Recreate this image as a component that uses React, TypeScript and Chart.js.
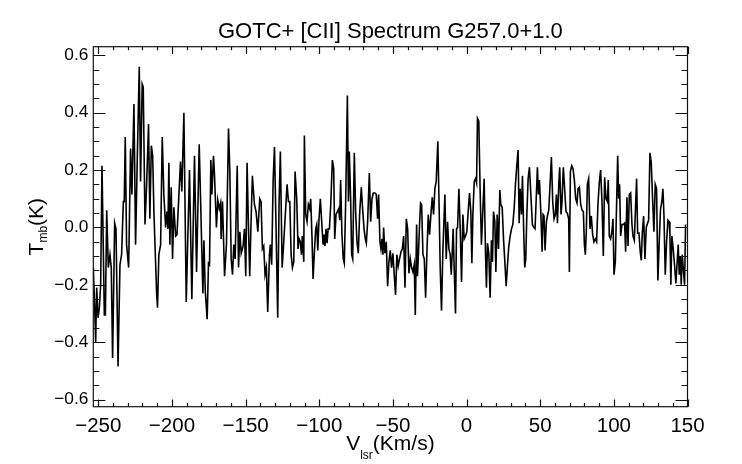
import React, { useEffect, useRef } from "react";
import { Chart, registerables } from "chart.js";

Chart.register(...registerables);

// ---- data (velocity in km/s, Tmb in K) ----
const VELOCITY_KMS: number[] = [
  -253.4, -252.5, -251.8, -251.1, -250.2, -249.3, -248.4, -247.5, -245.9, -245.2, -244.3, -243.2, -242.1, -241.2, -240.3, -238.9, -238.0, -236.6, -235.3, -234.2, -233.0, -232.4, -231.7, -230.8, -229.4, -228.1, -227.2, -225.8, -224.7, -223.5, -222.2, -221.3, -220.2, -219.5, -218.3, -217.2, -215.9, -215.0, -214.0, -213.1, -212.2, -210.4, -209.8, -208.9, -207.7, -206.6, -205.5, -204.3, -203.4, -202.7, -202.1, -201.4, -200.5, -199.6, -198.7, -197.5, -196.6, -195.5, -194.2, -193.3, -191.9, -190.3,
  -188.1, -186.5, -184.7, -183.3, -181.5, -179.0, -178.3, -177.4, -176.1, -175.2, -174.5, -173.6, -172.9, -171.8, -171.1, -169.8, -168.9, -167.9, -167.0, -166.6, -165.7, -164.3, -163.0, -161.6, -160.7, -159.8, -158.9, -158.0, -157.1, -155.7, -154.8, -153.9, -153.0, -151.7, -150.8, -149.9, -149.0, -148.1, -147.2, -146.3, -145.4, -144.0, -142.9, -141.7, -140.4, -139.5, -138.6, -137.7, -136.8, -135.9, -135.0, -133.8, -133.2, -132.3, -131.3, -130.4, -129.5, -128.2, -127.3, -126.4, -125.2, -124.1, -123.2,
  -121.85, -120.9, -120.0, -119.1, -118.2, -117.3, -116.4, -115.3, -114.4, -113.7, -112.8, -112.1, -111.5, -110.5, -110.1, -109.2, -108.3, -107.4, -106.5, -105.8, -104.9, -104.2, -103.3, -102.4, -101.7, -101.0, -100.15, -99.25, -98.35, -97.4, -96.75, -96.1, -95.4, -94.7, -94.0, -93.1, -92.2, -91.1, -90.2, -89.5, -88.6, -87.7, -86.8, -86.1, -85.5, -84.6, -83.7, -83.0, -82.1, -80.9, -80.2, -79.6, -78.7, -78.0, -77.3, -76.2, -75.3, -74.4, -73.5, -72.6, -71.45, -70.55, -69.6, -68.75, -68.05, -67.15, -66.0, -65.1, -64.2, -63.3, -62.2, -61.3, -60.4, -59.7, -58.8, -58.1, -57.4, -56.75,
  -56.3, -55.4, -54.5, -53.6, -52.7, -51.8, -50.9, -50.0, -49.1, -48.2, -47.3, -46.4, -45.5, -44.5, -43.6, -42.7, -41.8, -40.9, -40.0, -39.1, -38.2, -37.3, -36.4, -35.5, -34.8, -33.9, -33.3, -32.6, -31.9, -31.2, -30.5, -29.6, -28.7, -27.8, -26.9, -26.0, -25.1, -24.2, -23.3, -22.4, -21.5, -20.6, -19.5, -18.6, -17.9, -17.0, -16.1, -14.7, -13.8, -12.9, -12.0, -11.1, -10.4, -9.7, -9.1, -8.4, -7.5, -6.8, -6.1, -5.2, -4.3, -3.4, -2.5, -1.6, -0.7, 0.2, 1.1, 2.0, 2.9, 3.6, 4.3, 5.2, 6.1, 6.8, 7.4, 8.3, 9.2, 10.1,
  11.95, 12.85, 13.5, 14.2, 15.1, 16.0, 16.9, 17.6, 18.3, 19.2, 19.9, 20.8, 21.7, 22.6, 23.25, 24.2, 25.1, 26.0, 26.9, 27.8, 28.7, 29.6, 30.5, 31.4, 32.3, 33.2, 34.1, 35.0, 35.7, 36.4, 37.3, 37.95, 38.85, 39.5, 40.2, 40.9, 41.8, 42.7, 43.6, 44.7, 45.6, 46.5, 47.4, 48.1, 48.8, 49.5, 50.4, 51.3, 51.95, 52.6, 53.3, 54.2, 55.1, 55.8, 56.7, 57.6, 58.5, 59.4, 60.3, 61.0, 61.7, 62.6, 63.25, 64.15, 64.8, 65.7, 66.6, 67.5, 68.4, 69.35, 69.8, 70.5, 71.4, 72.3, 73.2, 74.1, 75.0, 75.7,
  76.6, 77.5, 78.4, 79.3, 80.0, 80.65, 81.3, 82.0, 82.9, 83.8, 84.7, 85.6, 86.5, 87.4, 88.3, 89.2, 90.1, 91.0, 91.95, 92.85, 93.75, 94.65, 95.6, 96.2, 96.9, 97.8, 98.7, 99.4, 100.1, 101.0, 101.9, 102.6, 103.25, 103.9, 104.6, 105.5, 106.4, 107.3, 108.0, 108.9, 109.6, 110.5, 111.4, 112.3, 113.0, 113.9, 114.55, 115.45, 116.15, 117.05, 117.9, 118.6, 119.3, 120.2, 121.1, 122.0, 122.9, 123.6, 124.5, 125.4, 126.3, 127.2, 128.1, 129.0, 129.9, 130.8, 131.7, 132.6, 133.3, 134.0, 134.9, 135.8, 136.7, 137.6, 138.05, 138.7, 139.4, 140.3, 141.2, 142.1, 143.0, 143.7, 144.4, 145.1, 145.75, 146.4, 147.1, 148.0, 148.7,
];

const TMB_K: number[] = [
  -0.14, -0.27, -0.40, -0.21, -0.315, -0.28, -0.20, 0.215, -0.305, -0.305, 0.06, -0.14, -0.095, -0.14, -0.455, 0.015, -0.005, -0.485, -0.13, -0.095, 0.09, 0.09, 0.315, -0.06, -0.14, 0.275, 0.115, 0.43, -0.06, 0.25, 0.56, 0.16, 0.50, 0.49, 0.01, 0.15, 0.36, 0.03, 0.285, 0.25, 0.045, -0.23, -0.28, -0.095, -0.06, 0.315, 0.115, 0.00, 0.055, -0.005, 0.225, -0.06, 0.14, -0.11, 0.07, -0.03, -0.025, 0.09, 0.23, 0.125, 0.40, -0.26,
  0.20, -0.25, 0.25, -0.155, 0.29, -0.23, -0.045, -0.22, -0.32, -0.125, -0.13, 0.235, 0.115, 0.25, 0.18, 0.00, 0.095, 0.065, 0.085, -0.04, 0.09, -0.17, -0.06, 0.345, 0.195, -0.11, -0.165, -0.06, -0.11, 0.215, -0.14, -0.015, -0.09, -0.065, -0.005, -0.17, 0.225, 0.01, -0.17, 0.02, 0.18, 0.08, 0.055, -0.015, 0.10, 0.09, -0.075, -0.065, -0.165, -0.14, -0.295, -0.095, -0.06, -0.13, 0.165, 0.28, 0.045, -0.315, 0.08, 0.265, -0.14, -0.05, 0.03,
  0.15, 0.09, 0.09, -0.095, -0.14, -0.12, 0.195, 0.10, -0.075, -0.04, -0.05, -0.095, -0.03, -0.12, 0.32, 0.045, 0.02, 0.08, 0.065, 0.10, -0.04, -0.18, -0.085, -0.005, 0.01, -0.08, 0.03, 0.10, 0.02, -0.06, -0.025, -0.065, -0.005, -0.055, -0.005, -0.005, 0.08, 0.235, 0.205, -0.04, 0.045, 0.055, 0.065, 0.025, 0.165, -0.025, -0.11, -0.125, 0.08, 0.46, 0.09, 0.265, 0.10, -0.095, -0.11, 0.26, 0.055, -0.05, -0.09, 0.045, 0.14, 0.065, -0.005, -0.04, -0.055, 0.02, 0.19, 0.02, 0.10, 0.12, 0.12, 0.115, 0.03, 0.115, -0.05, -0.075, -0.04, -0.095,
  0.00, -0.09, -0.05, -0.205, -0.12, -0.08, -0.14, -0.09, -0.165, -0.235, -0.095, -0.135, -0.11, -0.085, -0.075, -0.03, -0.21, 0.03, -0.005, -0.16, -0.11, -0.14, -0.155, -0.13, -0.305, 0.01, -0.17, -0.085, 0.01, 0.085, 0.08, -0.095, -0.11, -0.245, -0.085, 0.045, -0.025, 0.045, 0.105, 0.045, 0.135, 0.16, 0.30, 0.065, -0.14, -0.29, -0.085, 0.115, -0.11, 0.02, -0.075, -0.095, -0.165, -0.085, -0.005, -0.14, -0.30, -0.005, 0.00, 0.135, -0.005, -0.19, 0.045, -0.04, -0.03, -0.015, 0.055, 0.12, 0.055, -0.125, 0.045, 0.16, 0.17, 0.155, 0.38, 0.37, 0.135, -0.06,
  0.17, -0.085, -0.21, -0.055, -0.09, -0.245, -0.045, -0.12, 0.055, 0.02, -0.155, 0.045, -0.075, 0.13, 0.08, 0.07, -0.04, -0.12, -0.205, -0.13, -0.065, -0.03, -0.005, 0.01, 0.065, 0.15, 0.215, 0.27, 0.015, 0.135, 0.045, 0.18, -0.025, -0.14, -0.11, 0.04, 0.17, 0.21, 0.12, 0.01, 0.00, -0.005, 0.115, 0.21, 0.115, 0.165, 0.055, -0.085, 0.045, 0.04, -0.08, 0.02, 0.045, 0.06, 0.15, 0.245, 0.09, 0.03, 0.045, 0.115, 0.015, 0.15, 0.21, 0.045, 0.09, 0.21, 0.135, 0.055, 0.05, 0.03, -0.155, 0.195, 0.215, 0.205, 0.165, 0.10, 0.085, 0.135,
  0.14, 0.08, 0.06, 0.055, -0.06, -0.095, -0.015, 0.15, 0.17, -0.005, 0.04, -0.025, -0.05, -0.04, -0.05, 0.08, 0.155, 0.20, 0.09, -0.10, 0.175, 0.10, 0.09, 0.165, -0.03, -0.04, -0.015, 0.03, -0.165, -0.12, 0.09, 0.25, 0.10, 0.15, -0.03, 0.01, 0.01, 0.015, -0.085, 0.105, -0.065, 0.115, 0.12, 0.01, -0.03, -0.045, 0.045, 0.17, -0.02, -0.02, -0.085, -0.115, -0.02, 0.04, -0.11, 0.00, 0.015, 0.025, 0.26, 0.225, 0.10, -0.015, 0.15, 0.135, -0.185, -0.05, 0.065, 0.09, 0.135, 0.045, -0.165, -0.05, 0.025, 0.02, -0.025, -0.20, -0.03, -0.075, -0.13, -0.195, -0.12, -0.06, -0.165, -0.10, -0.20, -0.095, -0.14, -0.20, 0.01,
];

// ---- axes ----
const X_MIN = -253.4;
const X_MAX = 150;
const Y_MIN = -0.625;
const Y_MAX = 0.63;
const X_MAJOR_TICKS = [-250, -200, -150, -100, -50, 0, 50, 100, 150];
const Y_MAJOR_TICKS = [-0.6, -0.4, -0.2, 0.0, 0.2, 0.4, 0.6];
const X_MINOR_STEP = 10;
const Y_MINOR_STEP = 0.05;

const TITLE = "GOTC+ [CII] Spectrum G257.0+1.0";
const X_LABEL = ["V", "lsr", "(Km/s)"];
const Y_LABEL = ["T", "mb", "(K)"];

const FONT = '"Liberation Sans", Arial, Helvetica, sans-serif';

function minorTicks(a: number, b: number, step: number): number[] {
  const out: number[] = [];
  const n = Math.round((b - a) / step);
  for (let i = 0; i <= n; i++) out.push(+(a + i * step).toFixed(4));
  return out;
}

const fmtSigned = (v: number, d: number) =>
  (v < -1e-9 ? "\u2212" : "") + Math.abs(v).toFixed(d);

const idlFrame = {
  id: "idlFrame",
  afterDatasetsDraw(chart: any) {
    const { ctx, chartArea: a, scales } = chart;
    const x = scales.x;
    const y = scales.y;
    ctx.save();
    ctx.strokeStyle = "#111";
    ctx.lineWidth = 1.2;
    ctx.strokeRect(a.left, a.top, a.right - a.left, a.bottom - a.top);
    ctx.beginPath();
    const xMinor = minorTicks(-250, 150, X_MINOR_STEP);
    for (const v of xMinor) {
      const isMajor = X_MAJOR_TICKS.some((m) => Math.abs(m - v) < 1e-6);
      const len = isMajor ? 7.2 : 3.6;
      const px = Math.round(x.getPixelForValue(v)) + 0.5;
      ctx.moveTo(px, a.bottom);
      ctx.lineTo(px, a.bottom - len);
      ctx.moveTo(px, a.top);
      ctx.lineTo(px, a.top + len);
    }
    const yMinor = minorTicks(-0.6, 0.6, Y_MINOR_STEP);
    for (const v of yMinor) {
      const isMajor = Y_MAJOR_TICKS.some((m) => Math.abs(m - v) < 1e-6);
      const len = isMajor ? 12 : 6;
      const py = Math.round(y.getPixelForValue(v)) + 0.5;
      ctx.moveTo(a.left, py);
      ctx.lineTo(a.left + len, py);
      ctx.moveTo(a.right, py);
      ctx.lineTo(a.right - len, py);
    }
    ctx.stroke();

    // title
    const cx = (a.left + a.right) / 2;
    ctx.fillStyle = "#000";
    ctx.textBaseline = "alphabetic";
    ctx.textAlign = "center";
    ctx.font = `22px ${FONT}`;
    ctx.fillText(TITLE, cx, 38.3);

    // x axis label with subscript
    const mainF = `21px ${FONT}`;
    const subF = `12px ${FONT}`;
    ctx.textAlign = "left";
    ctx.font = mainF;
    const w0 = ctx.measureText(X_LABEL[0]).width;
    const w2 = ctx.measureText(X_LABEL[2]).width;
    ctx.font = subF;
    const w1 = ctx.measureText(X_LABEL[1]).width;
    let sx = cx - (w0 + w1 + w2) / 2;
    const by = 450;
    ctx.font = mainF;
    ctx.fillText(X_LABEL[0], sx, by);
    sx += w0;
    ctx.font = subF;
    ctx.fillText(X_LABEL[1], sx, by + 9);
    sx += w1;
    ctx.font = mainF;
    ctx.fillText(X_LABEL[2], sx, by);

    // y axis label with subscript (rotated)
    const cy = (a.top + a.bottom) / 2;
    ctx.save();
    ctx.translate(42.5, cy);
    ctx.rotate(-Math.PI / 2);
    ctx.font = mainF;
    const v0 = ctx.measureText(Y_LABEL[0]).width;
    const v2 = ctx.measureText(Y_LABEL[2]).width;
    ctx.font = subF;
    const v1 = ctx.measureText(Y_LABEL[1]).width;
    let tx = -(v0 + v1 + v2) / 2;
    ctx.font = mainF;
    ctx.fillText(Y_LABEL[0], tx, 0);
    tx += v0;
    ctx.font = subF;
    ctx.fillText(Y_LABEL[1], tx, 4);
    tx += v1;
    ctx.font = mainF;
    ctx.fillText(Y_LABEL[2], tx, 0);
    ctx.restore();

    ctx.restore();
  },
};

export default function App() {
  const ref = useRef<HTMLCanvasElement | null>(null);

  useEffect(() => {
    if (!ref.current) return;
    const points = VELOCITY_KMS.map((v, i) => ({ x: v, y: TMB_K[i] }));
    const chart = new Chart(ref.current, {
      type: "line",
      data: {
        datasets: [
          {
            data: points,
            borderColor: "#000",
            borderWidth: 1.6,
            pointRadius: 0,
            tension: 0,
            fill: false,
          },
        ],
      },
      options: {
        animation: false,
        responsive: false,
        events: [],
        layout: { padding: { left: 0, right: 54.5, top: 46.7, bottom: 0 } },
        plugins: {
          legend: { display: false },
          tooltip: { enabled: false },
          title: { display: false },
        },
        scales: {
          x: {
            type: "linear",
            min: X_MIN,
            max: X_MAX,
            grid: { display: false, drawTicks: false },
            border: { display: false },
            afterBuildTicks: (s: any) => {
              s.ticks = X_MAJOR_TICKS.map((v) => ({ value: v }));
            },
            afterFit: (s: any) => {
              s.height = 57.3;
            },
            ticks: {
              autoSkip: false,
              maxRotation: 0,
              padding: 7,
              color: "#000",
              font: { family: FONT, size: 20.5 },
              callback: (v: any) => fmtSigned(Number(v), 0),
            },
          },
          y: {
            type: "linear",
            min: Y_MIN,
            max: Y_MAX,
            grid: { display: false, drawTicks: false },
            border: { display: false },
            afterBuildTicks: (s: any) => {
              s.ticks = Y_MAJOR_TICKS.map((v) => ({ value: v }));
            },
            afterFit: (s: any) => {
              s.width = 93.3;
            },
            ticks: {
              autoSkip: false,
              padding: 5,
              color: "#000",
              font: { family: FONT, size: 17.3 },
              callback: (v: any) => fmtSigned(Number(v), 1),
            },
          },
        },
      },
      plugins: [idlFrame],
    });
    return () => chart.destroy();
  }, []);

  return (
    <div style={{ position: "absolute", left: 0, top: 0, width: 742, height: 464, background: "#fff" }}>
      <canvas ref={ref} width={742} height={464} style={{ display: "block" }} />
    </div>
  );
}
